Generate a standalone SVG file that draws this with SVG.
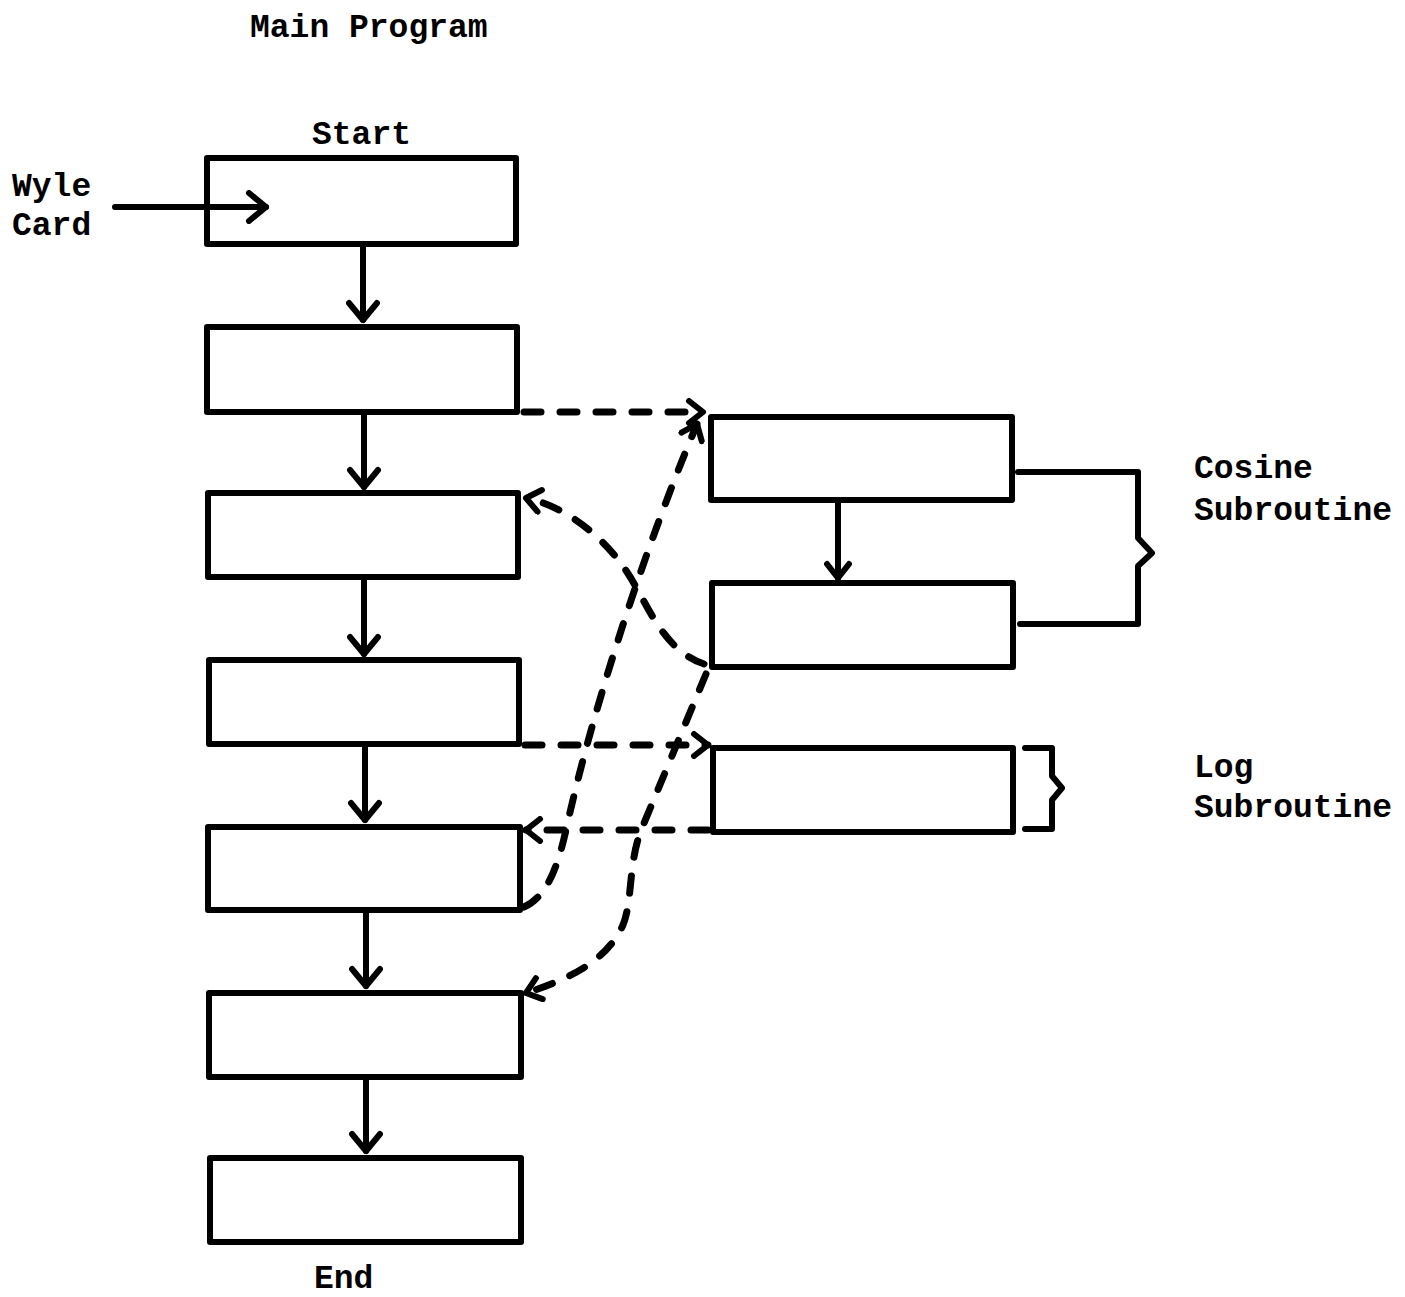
<svg xmlns="http://www.w3.org/2000/svg" width="1405" height="1297" viewBox="0 0 1405 1297">
<style>
  .box { fill: none; stroke: #000; stroke-width: 6; stroke-linejoin: round; }
  .flow { fill: none; stroke: #000; stroke-width: 6; stroke-linecap: round; }
  .dash { fill: none; stroke: #000; stroke-width: 7; stroke-linecap: round; stroke-dasharray: 17 19; }
  .brace { fill: none; stroke: #000; stroke-width: 6; stroke-linejoin: round; stroke-linecap: round; }
  .lbl { font-family: "Liberation Mono", "Courier New", monospace; font-weight: bold; font-size: 33px; fill: #000; }
</style>
<defs>
  <marker id="arr" viewBox="-22 -17 26 34" refX="0" refY="0" markerWidth="26" markerHeight="34" markerUnits="userSpaceOnUse" orient="auto">
    <path d="M-17,-14 L0,0 L-17,14" fill="none" stroke="#000" stroke-width="6" stroke-linecap="round" stroke-linejoin="round"/>
  </marker>
  <marker id="arrs" viewBox="-18 -14 22 28" refX="0" refY="0" markerWidth="22" markerHeight="28" markerUnits="userSpaceOnUse" orient="auto">
    <path d="M-14,-11 L0,0 L-14,11" fill="none" stroke="#000" stroke-width="6" stroke-linecap="round" stroke-linejoin="round"/>
  </marker>
</defs>
<rect width="1405" height="1297" fill="#fff"/>

<text class="lbl" x="250" y="37">Main Program</text>
<text class="lbl" x="312" y="144">Start</text>
<text class="lbl" x="12" y="196">Wyle</text>
<text class="lbl" x="12" y="235">Card</text>
<text class="lbl" x="314" y="1288">End</text>
<text class="lbl" x="1194" y="478">Cosine</text>
<text class="lbl" x="1194" y="520">Subroutine</text>
<text class="lbl" x="1194" y="777">Log</text>
<text class="lbl" x="1194" y="817">Subroutine</text>

<g id="m1"><rect class="box" x="207" y="158" width="309" height="86"/></g>
<g id="m2"><rect class="box" x="207" y="327" width="310" height="85"/></g>
<g id="m3"><rect class="box" x="208" y="493" width="310" height="84"/></g>
<g id="m4"><rect class="box" x="209" y="660" width="310" height="84"/></g>
<g id="m5"><rect class="box" x="208" y="827" width="312" height="83"/></g>
<g id="m6"><rect class="box" x="209" y="993" width="312" height="84"/></g>
<g id="m7"><rect class="box" x="210" y="1158" width="311" height="84"/></g>
<g id="c1"><rect class="box" x="711" y="417" width="301" height="83"/></g>
<g id="c2"><rect class="box" x="712" y="583" width="301" height="84"/></g>
<g id="lg"><rect class="box" x="713" y="748" width="300" height="84"/></g>

<g id="braces">
  <path class="brace" d="M1018,472 L1138,472 L1138,538 L1152,553 L1138,566 L1138,624 L1020,624"/>
  <path class="brace" d="M1025,748 L1052,748 L1052,776 L1062,788 L1052,800 L1052,829 L1025,829"/>
</g>

<g id="connectors">
  <line class="flow" x1="115" y1="207" x2="266" y2="207" marker-end="url(#arr)"/>
  <line class="flow" x1="363" y1="246" x2="363" y2="320" marker-end="url(#arr)"/>
  <line class="flow" x1="364" y1="414" x2="364" y2="487" marker-end="url(#arr)"/>
  <line class="flow" x1="364" y1="579" x2="364" y2="654" marker-end="url(#arr)"/>
  <line class="flow" x1="365" y1="746" x2="365" y2="820" marker-end="url(#arr)"/>
  <line class="flow" x1="366" y1="912" x2="366" y2="986" marker-end="url(#arr)"/>
  <line class="flow" x1="366" y1="1079" x2="366" y2="1151" marker-end="url(#arr)"/>
  <line class="flow" x1="838" y1="502" x2="838" y2="578" stroke-width="4" marker-end="url(#arrs)"/>

  <path class="dash" d="M524,412 L703,412" marker-end="url(#arrs)"/>
  <path class="dash" d="M524,907 C548,896 558,865 566,830 C590,720 640,560 697,424" marker-end="url(#arrs)"/>
  <path class="dash" d="M704,664 C662,650 647,602 627,572 C603,536 565,506 526,498" marker-end="url(#arrs)"/>
  <path class="dash" d="M706,674 L642,828 C628,862 633,900 623,925 C607,960 572,978 526,993" marker-end="url(#arrs)"/>
  <path class="dash" d="M525,745 L708,745" marker-end="url(#arrs)"/>
  <path class="dash" d="M708,830 L526,830" marker-end="url(#arrs)"/>
</g>
</svg>
